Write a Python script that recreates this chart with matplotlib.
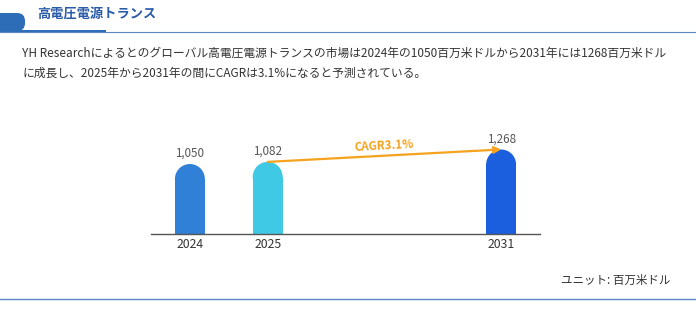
import numpy as np
import matplotlib.pyplot as plt
from matplotlib.patches import Rectangle, Ellipse, FancyBboxPatch

plt.rcParams['font.family'] = ['Noto Sans CJK JP', 'DejaVu Sans']

# data
years = ["2024", "2025", "2031"]
values = [1050, 1082, 1268]
value_labels = ["1,050", "1,082", "1,268"]
cagr_label = "CAGR3.1%"
title = "高電圧電源トランス"
body_lines = [
    "YH Researchによるとのグローバル高電圧電源トランスの市場は2024年の1050百万米ドルから2031年には1268百万米ドル",
    "に成長し、2025年から2031年の間にCAGRは3.1%になると予測されている。",
]
unit_label = "ユニット: 百万米ドル"

bar_colors = ["#2f80d6", "#40c9e5", "#1b5fde"]
W, H = 696, 309

fig = plt.figure(figsize=(W / 100, H / 100), dpi=100)

# overlay in pixel coords for header / text / rules
bg = fig.add_axes([0, 0, 1, 1])
bg.set_xlim(0, W)
bg.set_ylim(H, 0)
bg.axis("off")

bg.add_patch(FancyBboxPatch((-20, 13), 45, 18, boxstyle="round,pad=0,rounding_size=8",
                            fc="#2d6db8", ec="none"))
bg.add_patch(Rectangle((0, 30), 106, 3, fc="#2d6db8", ec="none"))
bg.plot([0, W], [32, 32], color="#5b86c4", lw=0.8)
bg.text(37, 15, title, fontsize=9.5, color="#2a5ba8", fontweight="bold", va="center")

for i, line in enumerate(body_lines):
    bg.text(22, 53 + i * 20, line, fontsize=8.5, color="#333333", va="center")

bg.text(670, 280, unit_label, fontsize=8.3, color="#333333", va="center", ha="right")
bg.plot([0, W], [299, 299], color="#5b86c4", lw=1.0)

# chart axes: baseline at y=234 px, x from 151 to 540 px
ax = fig.add_axes([151 / W, (H - 234) / H, (540 - 151) / W, 133.3 / H])
ax.set_xlim(-0.5, 4.5)
ax.set_ylim(0, 2000)
for s in ["top", "right", "left"]:
    ax.spines[s].set_visible(False)
ax.spines["bottom"].set_color("#555555")
ax.spines["bottom"].set_linewidth(1.0)
ax.set_yticks([])
ax.patch.set_alpha(0)

xpos = [0, 1, 4]
bw = 0.385
# y data units per x data unit in pixel space
x_px = (540 - 151) / 5.0
y_px = 133.3 / 2000.0
ry = (bw / 2) * x_px / y_px

for x, v, c, lab in zip(xpos, values, bar_colors, value_labels):
    ax.add_patch(Rectangle((x - bw / 2, 0), bw, v - ry, fc=c, ec="none"))
    ax.add_patch(Ellipse((x, v - ry), bw, 2 * ry, fc=c, ec="none"))
    ax.text(x, v + 65, lab, ha="center", va="bottom", fontsize=8.4, color="#555555")

ax.set_xticks(xpos)
ax.set_xticklabels(years, fontsize=8.8, color="#333333")
ax.tick_params(axis="x", length=0, pad=3)

# CAGR arrow
ax.annotate("", xy=(xpos[2], values[2]), xytext=(xpos[1], values[1]),
            arrowprops=dict(arrowstyle="-|>", color="#f5a21e", lw=1.6,
                            mutation_scale=10, shrinkA=0, shrinkB=0))
ang = np.degrees(np.arctan2((values[2] - values[1]) * y_px, (xpos[2] - xpos[1]) * x_px))
ax.text((xpos[1] + xpos[2]) / 2, (values[1] + values[2]) / 2 + 55, cagr_label,
        ha="center", va="bottom", fontsize=8.3, color="#f5a21e", fontweight="bold",
        rotation=ang, rotation_mode="anchor")

fig.savefig("out.png", dpi=100)
